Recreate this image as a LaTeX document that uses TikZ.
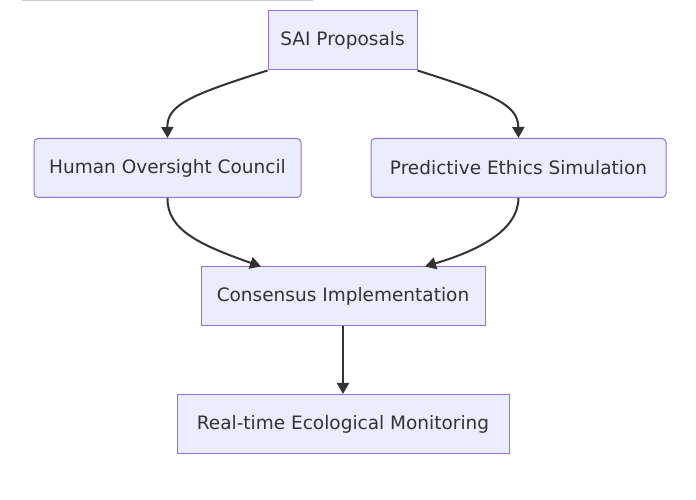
\documentclass[tikz,border=0pt]{standalone}
\usepackage{fontspec}
\setmainfont{DejaVu Sans}
\usetikzlibrary{arrows.meta}
\definecolor{nfill}{HTML}{ECECFF}
\definecolor{nbord}{HTML}{9370DB}
\definecolor{edge}{HTML}{333333}
\begin{document}
\begin{tikzpicture}[x=1pt,y=1pt,
  box/.style={draw=nbord,fill=nfill,line width=1pt,font=\fontsize{18.5}{21}\selectfont,text=edge,inner sep=0pt,minimum height=59pt},
  rbox/.style={box,rounded corners=4pt},
  conn/.style={draw=edge,line width=2pt,-{Triangle[length=11pt,width=12pt]}}]
\useasboundingbox (0,0) rectangle (696,500);
\draw[gray!40,line width=1pt] (22,499) -- (313,499);
\node[box,minimum width=149pt] (sai) at (342.5,459.5) {SAI Proposals};
\node[rbox,minimum width=267pt] (hoc) at (167.5,332) {Human Oversight Council};
\node[rbox,minimum width=295pt] (pes) at (518.5,332) {Predictive Ethics Simulation};
\node[box,minimum width=284pt] (ci) at (343,203.5) {Consensus Implementation};
\node[box,minimum width=332pt] (rt) at (343,76) {Real-time Ecological Monitoring};
\draw[conn] (sai.south west) .. controls (190,405) and (167,395) .. (hoc.north);
\draw[conn] (sai.south east) .. controls (495,405) and (518,395) .. (pes.north);
\draw[conn] (hoc.south) .. controls (167,270) and (200,255) .. ([xshift=-82pt]ci.north);
\draw[conn] (pes.south) .. controls (518,270) and (480,250) .. ([xshift=82pt]ci.north);
\draw[conn] (ci) -- (rt);
\end{tikzpicture}
\end{document}
